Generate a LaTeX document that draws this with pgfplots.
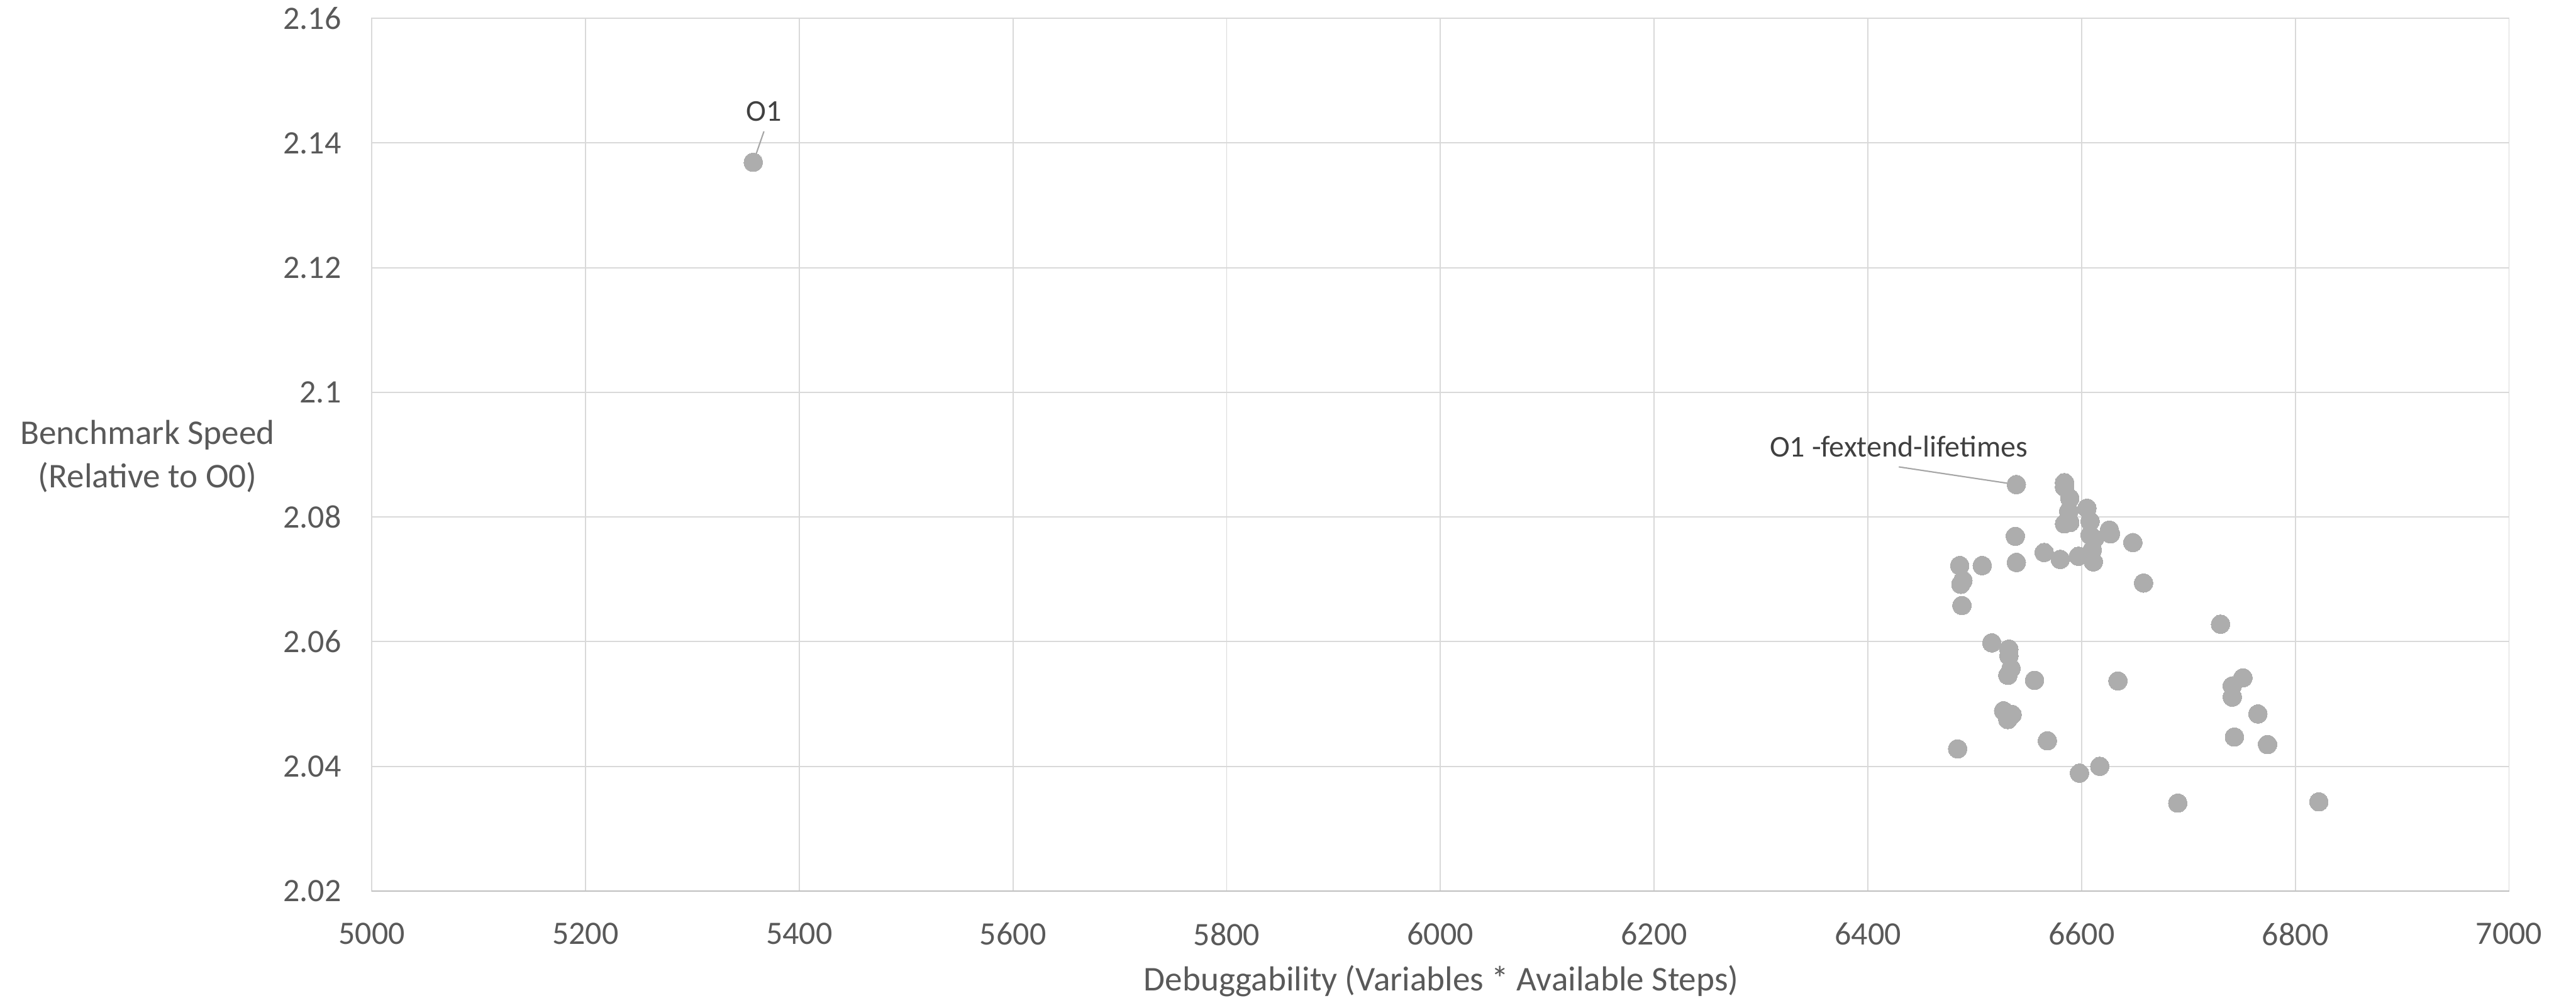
\documentclass[border=0pt]{standalone}
\usepackage{fontspec}
\setmainfont{Carlito}
\usepackage{pgfplots}
\pgfplotsset{compat=1.18}
\definecolor{gridc}{HTML}{D9D9D9}
\definecolor{axisc}{HTML}{BFBFBF}
\definecolor{tickc}{HTML}{595959}
\definecolor{labc}{HTML}{404040}
\definecolor{markc}{HTML}{ADADAD}
\definecolor{leadc}{HTML}{A6A6A6}
\begin{document}
\begin{tikzpicture}
\useasboundingbox (0,0) rectangle (768pt,299pt);
\begin{axis}[
  at={(110.83pt,33.33pt)}, anchor=south west,
  width=637.2pt, height=260.2pt, scale only axis,
  xmin=5000, xmax=7000, ymin=2.02, ymax=2.16,
  xtick={5000,5200,...,7000},
  ytick={2.02,2.04,2.06,2.08,2.10,2.12,2.14,2.16},
  scaled ticks=false,
  /pgf/number format/assume math mode=true,
  xticklabel style={/pgf/number format/1000 sep={}, font=\fontsize{9.75}{11.7}\selectfont, text=tickc, yshift=-6pt},
  yticklabel style={/pgf/number format/fixed, /pgf/number format/precision=2, font=\fontsize{9.75}{11.7}\selectfont, text=tickc, xshift=-5.6pt},
  major tick length=0pt,
  grid=major,
  grid style={draw=gridc, line width=0.35pt},
  axis line style={draw=gridc, line width=0.35pt},
  clip=false,
]
\addplot[only marks, mark=*, color=markc, mark size=2.78pt, mark options={fill=markc, draw=markc, line width=0pt}] coordinates {
(5357,2.1369) (6539,2.0852) (6584,2.0855) (6584,2.0848) (6589,2.0830)
(6588,2.0809) (6584,2.0789) (6589,2.0791) (6605,2.0814) (6608,2.0793)
(6608,2.0771) (6612,2.0765) (6610,2.0747) (6611,2.0728) (6626,2.0779)
(6627,2.0773) (6648,2.0759) (6658,2.0694) (6538,2.0769) (6539,2.0727)
(6565,2.0743) (6580,2.0732) (6597,2.0737) (6486,2.0722) (6507,2.0722)
(6489,2.0698) (6487,2.0692) (6488,2.0658) (6730,2.0628) (6516,2.0598)
(6532,2.0588) (6532,2.0577) (6534,2.0557) (6531,2.0546) (6556,2.0538)
(6527,2.0489) (6535,2.0483) (6531,2.0475) (6634,2.0537) (6568,2.0441)
(6484,2.0428) (6598,2.0389) (6617,2.0400) (6751,2.0542) (6741,2.0529)
(6741,2.0511) (6765,2.0484) (6743,2.0447) (6774,2.0435) (6690,2.0341)
(6822,2.0343)
};
\draw[axisc, line width=0.4pt] (rel axis cs:0,0) -- (rel axis cs:1,0);
\draw[leadc, line width=0.4pt] (axis cs:5367,2.14186) -- (axis cs:5357,2.1369);
\draw[leadc, line width=0.4pt] (axis cs:6429,2.08804) -- (axis cs:6539,2.0852);
\node[anchor=base, text=labc, font=\fontsize{9}{10.8}\selectfont, inner sep=0pt] at (axis cs:5367,2.14356) {O1};
\node[anchor=base, text=labc, font=\fontsize{9}{10.8}\selectfont, inner sep=0pt] at (axis cs:6429,2.08969) {O1 -fextend-lifetimes};
\end{axis}
\node[anchor=base, text=tickc, font=\fontsize{10.35}{12.4}\selectfont, inner sep=0pt] at (429.7pt,3.67pt) {Debuggability (Variables * Available Steps)};
\node[anchor=base, text=tickc, font=\fontsize{10.35}{12.4}\selectfont, inner sep=0pt] at (44pt,166.5pt) {Benchmark Speed};
\node[anchor=base, text=tickc, font=\fontsize{10.35}{12.4}\selectfont, inner sep=0pt] at (44pt,153.5pt) {(Relative to O0)};
\end{tikzpicture}
\end{document}
